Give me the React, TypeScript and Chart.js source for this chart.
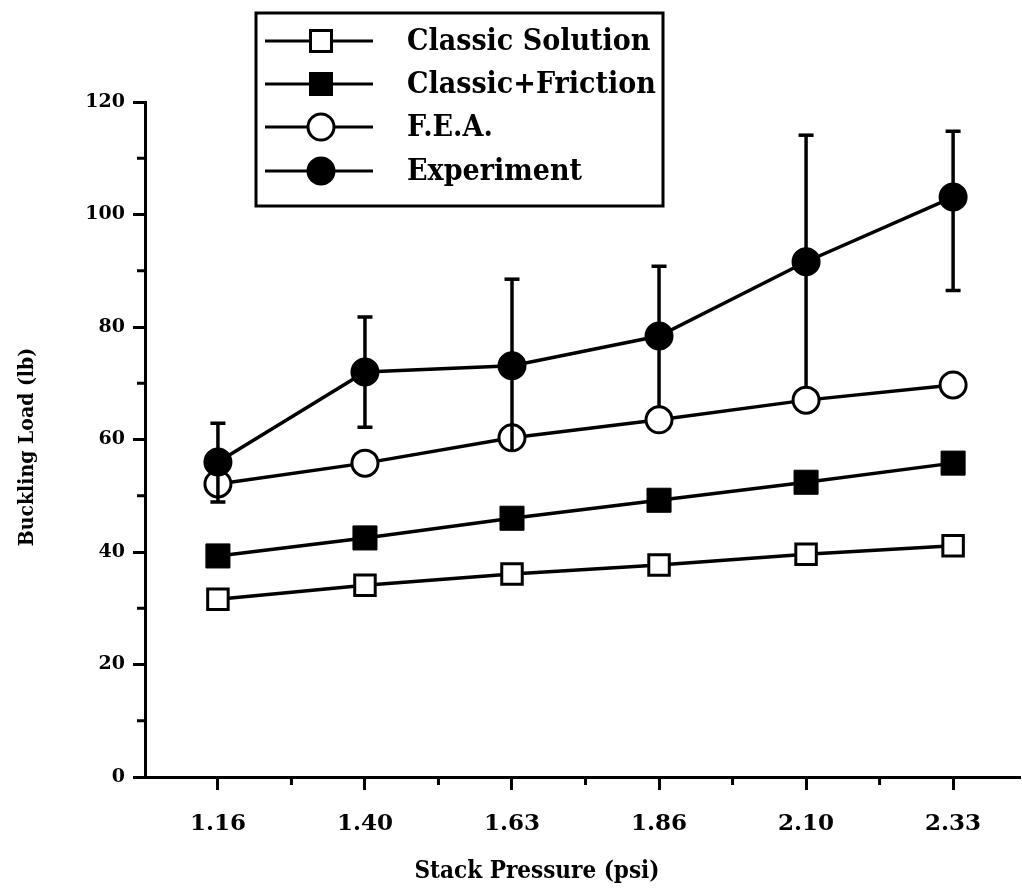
import React, { useEffect, useRef } from 'react';
import { Chart, registerables } from 'chart.js';

Chart.register(...registerables);

const xLabels = ['1.16', '1.40', '1.63', '1.86', '2.10', '2.33'];
const classicSolution = [31.6, 34.1, 36.1, 37.7, 39.6, 41.1];
const classicFriction = [39.3, 42.5, 46.0, 49.2, 52.4, 55.8];
const fea = [52.1, 55.8, 60.3, 63.5, 67.0, 69.7];
const experiment = [56.0, 72.0, 73.1, 78.4, 91.6, 103.1];
const experimentUpper = [62.9, 81.8, 88.5, 90.8, 114.1, 114.8];
const experimentLower = [48.9, 62.2, 58.0, 65.8, 69.3, 86.5];
const lowerCapShown = [true, true, false, false, false, true];
const yMinorTicks = [10, 30, 50, 70, 90, 110];
const xMinorTicks = [0.5, 1.5, 2.5, 3.5, 4.5];
const seriesNames = ['Classic Solution', 'Classic+Friction', 'F.E.A.', 'Experiment'];
const xTitle = 'Stack Pressure (psi)';
const yTitle = 'Buckling Load (lb)';

const SERIF = '"DejaVu Serif", "Liberation Serif", serif';
const SERIF_COND = '"DejaVu Serif Condensed", "DejaVu Serif", serif';

type Marker = { style: 'rect' | 'circle'; filled: boolean };
const markers: Marker[] = [
  { style: 'rect', filled: false },
  { style: 'rect', filled: true },
  { style: 'circle', filled: false },
  { style: 'circle', filled: true },
];

function drawMarker(ctx: CanvasRenderingContext2D, m: Marker, cx: number, cy: number) {
  ctx.save();
  ctx.lineWidth = 3;
  ctx.strokeStyle = '#000';
  ctx.fillStyle = m.filled ? '#000' : '#fff';
  ctx.beginPath();
  if (m.style === 'rect') {
    const s = m.filled ? 24 : 21;
    ctx.rect(cx - s / 2, cy - s / 2, s, s);
  } else {
    const r = m.filled ? 14.5 : 13;
    ctx.arc(cx, cy, r, 0, Math.PI * 2);
  }
  ctx.fill();
  if (!m.filled) ctx.stroke();
  ctx.restore();
}

const overlayPlugin = {
  id: 'overlay',
  afterDatasetsDraw(chart: any) {
    const { ctx, scales } = chart;
    const x = scales.x;
    const y = scales.y;
    ctx.save();
    ctx.strokeStyle = '#000';
    ctx.lineWidth = 3.5;
    ctx.lineCap = 'butt';
    experiment.forEach((_v, i) => {
      const px = x.getPixelForValue(i);
      const top = y.getPixelForValue(experimentUpper[i]);
      const bot = y.getPixelForValue(experimentLower[i]);
      ctx.beginPath();
      ctx.moveTo(px, top);
      ctx.lineTo(px, bot);
      ctx.stroke();
      ctx.beginPath();
      ctx.moveTo(px - 7.5, top);
      ctx.lineTo(px + 7.5, top);
      if (lowerCapShown[i]) {
        ctx.moveTo(px - 7.5, bot);
        ctx.lineTo(px + 7.5, bot);
      }
      ctx.stroke();
    });
    ctx.restore();
  },
  afterDraw(chart: any) {
    const { ctx, scales, chartArea } = chart;
    const x = scales.x;
    const y = scales.y;
    ctx.save();
    // minor ticks
    ctx.strokeStyle = '#000';
    ctx.lineWidth = 3;
    ctx.beginPath();
    yMinorTicks.forEach((v) => {
      const py = y.getPixelForValue(v);
      ctx.moveTo(chartArea.left - 8, py);
      ctx.lineTo(chartArea.left, py);
    });
    xMinorTicks.forEach((v) => {
      const px = x.getPixelForValue(v);
      ctx.moveTo(px, chartArea.bottom);
      ctx.lineTo(px, chartArea.bottom + 8);
    });
    ctx.stroke();

    // axis titles
    ctx.fillStyle = '#000';
    ctx.font = `bold 24px ${SERIF_COND}`;
    ctx.textAlign = 'center';
    ctx.textBaseline = 'middle';
    ctx.fillText(xTitle, 537, 872);

    ctx.save();
    ctx.translate(28, 447);
    ctx.rotate(-Math.PI / 2);
    ctx.font = `bold 21px ${SERIF_COND}`;
    ctx.fillText(yTitle, 0, 0);
    ctx.restore();

    // legend
    const bx = 256, by = 13, bw = 407, bh = 193;
    ctx.fillStyle = '#fff';
    ctx.fillRect(bx, by, bw, bh);
    ctx.lineWidth = 3;
    ctx.strokeStyle = '#000';
    ctx.strokeRect(bx, by, bw, bh);
    const rows = [41, 84, 127, 171];
    seriesNames.forEach((name, i) => {
      const ry = rows[i];
      ctx.beginPath();
      ctx.lineWidth = 3;
      ctx.moveTo(265, ry);
      ctx.lineTo(373, ry);
      ctx.stroke();
      drawMarker(ctx, markers[i], 321, ry);
      ctx.fillStyle = '#000';
      ctx.font = `bold 30px ${SERIF_COND}`;
      ctx.textAlign = 'left';
      ctx.textBaseline = 'middle';
      ctx.fillText(name, 407, ry + 1);
    });
    ctx.restore();
  },
};

export default function App() {
  const canvasRef = useRef<HTMLCanvasElement | null>(null);

  useEffect(() => {
    document.body.style.margin = '0';
    document.documentElement.style.overflow = 'hidden';
    const canvas = canvasRef.current;
    if (!canvas) return;
    const toXY = (arr: number[]) => arr.map((v, i) => ({ x: i, y: v }));
    const base = {
      borderColor: '#000',
      borderWidth: 3.5,
      pointBorderColor: '#000',
      showLine: true,
      clip: false as any,
    };
    const chart = new Chart(canvas, {
      type: 'line',
      data: {
        datasets: [
          {
            ...base,
            label: seriesNames[3],
            data: toXY(experiment),
            pointStyle: 'circle',
            pointRadius: 13.5,
            pointBorderWidth: 2,
            pointBackgroundColor: '#000',
          },
          {
            ...base,
            label: seriesNames[2],
            data: toXY(fea),
            pointStyle: 'circle',
            pointRadius: 13,
            pointBorderWidth: 3,
            pointBackgroundColor: '#fff',
          },
          {
            ...base,
            label: seriesNames[1],
            data: toXY(classicFriction),
            pointStyle: 'rect',
            pointRadius: 17,
            pointBorderWidth: 1,
            pointBackgroundColor: '#000',
          },
          {
            ...base,
            label: seriesNames[0],
            data: toXY(classicSolution),
            pointStyle: 'rect',
            pointRadius: 14.5,
            pointBorderWidth: 3,
            pointBackgroundColor: '#fff',
          },
        ] as any,
      },
      options: {
        responsive: false,
        animation: false,
        events: [],
        layout: { autoPadding: false, padding: { top: 102, right: 2, left: 0, bottom: 0 } },
        plugins: {
          legend: { display: false },
          tooltip: { enabled: false },
        },
        scales: {
          x: {
            type: 'linear',
            min: -0.496,
            max: 5.455,
            afterBuildTicks: (scale: any) => {
              scale.ticks = xLabels.map((_l, i) => ({ value: i }));
            },
            afterFit: (scale: any) => {
              scale.height = 116;
            },
            ticks: {
              autoSkip: false,
              maxRotation: 0,
              padding: 20,
              color: '#000',
              font: { family: SERIF, weight: 'bold', size: 23 },
              callback: (v: any) => xLabels[Math.round(Number(v))] ?? '',
            },
            grid: {
              drawOnChartArea: false,
              drawTicks: true,
              tickLength: 13,
              tickWidth: 3,
              tickColor: '#000',
            },
            border: { display: true, color: '#000', width: 3 },
          },
          y: {
            type: 'linear',
            min: 0,
            max: 120,
            afterFit: (scale: any) => {
              scale.width = 145;
            },
            ticks: {
              stepSize: 20,
              padding: 8,
              color: '#000',
              font: { family: SERIF, weight: 'bold', size: 19 },
            },
            grid: {
              drawOnChartArea: false,
              drawTicks: true,
              tickLength: 12,
              tickWidth: 3,
              tickColor: '#000',
            },
            border: { display: true, color: '#000', width: 3 },
          },
        },
      },
      plugins: [overlayPlugin],
    });
    return () => chart.destroy();
  }, []);

  return (
    <div style={{ width: 1022, height: 893, overflow: 'hidden' }}>
      <canvas ref={canvasRef} width={1022} height={893} style={{ display: 'block' }} />
    </div>
  );
}
